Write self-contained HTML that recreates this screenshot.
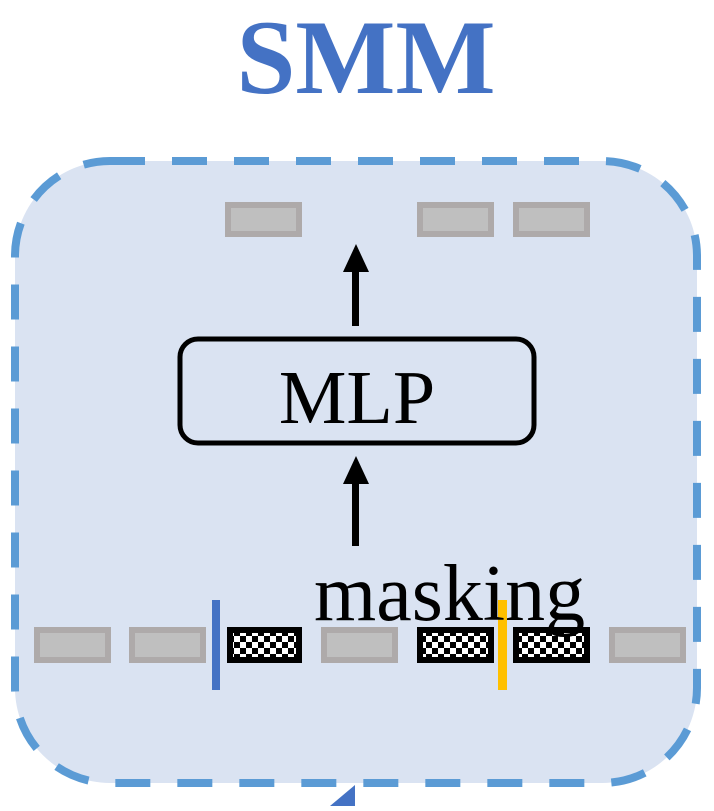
<!DOCTYPE html>
<html><head><meta charset="utf-8"><style>
html,body{margin:0;padding:0;background:#fff;}
body{width:714px;height:806px;overflow:hidden;}
</style></head><body>
<svg width="714" height="806" viewBox="0 0 714 806" xmlns="http://www.w3.org/2000/svg">
<defs>
<pattern id="ck" x="0" y="0" width="12" height="12" patternUnits="userSpaceOnUse">
<rect width="12" height="12" fill="#fff"/>
<rect width="6" height="6" fill="#000"/>
<rect x="6" y="6" width="6" height="6" fill="#000"/>
</pattern>
</defs>
<text x="366" y="93" text-anchor="middle" font-family="Liberation Serif, serif" font-weight="bold" font-size="106" fill="#4472c4">SMM</text>
<rect x="15" y="161" width="682" height="622" rx="95" ry="95" fill="#dae3f2" stroke="#5b9bd5" stroke-width="8" stroke-dasharray="35 27"/>
<polygon points="330,806 355,785 355,806" fill="#4472c4"/>
<g fill="#bfbfbf" stroke="#aeaaaa" stroke-width="6">
<rect x="228" y="205" width="71" height="29"/>
<rect x="420" y="205" width="71" height="29"/>
<rect x="516" y="205" width="71" height="29"/>
<rect x="37" y="630" width="71" height="30"/>
<rect x="132" y="630" width="71" height="30"/>
<rect x="324" y="630" width="71" height="30"/>
<rect x="612" y="630" width="71" height="30"/>
</g>
<g fill="url(#ck)" stroke="#000" stroke-width="6">
<rect x="230" y="630" width="69" height="30"/>
<rect x="420" y="630" width="71" height="30"/>
<rect x="516" y="630" width="71" height="30"/>
</g>
<rect x="212" y="600" width="8" height="90" fill="#4472c4"/>
<rect x="498" y="600" width="9" height="90" fill="#ffc000"/>
<rect x="180" y="339" width="354" height="104" rx="18" fill="none" stroke="#000" stroke-width="5"/>
<text x="357" y="423" text-anchor="middle" font-family="Liberation Serif, serif" font-size="76" fill="#000">MLP</text>
<rect x="352" y="268" width="7" height="58" fill="#000"/>
<polygon points="343,272 356,244 369,272" fill="#000"/>
<rect x="352" y="480" width="7" height="66" fill="#000"/>
<polygon points="343,484 356,456 369,484" fill="#000"/>
<text x="314" y="620" font-family="Liberation Serif, serif" font-size="80" fill="#000">masking</text>
</svg>
</body></html>
